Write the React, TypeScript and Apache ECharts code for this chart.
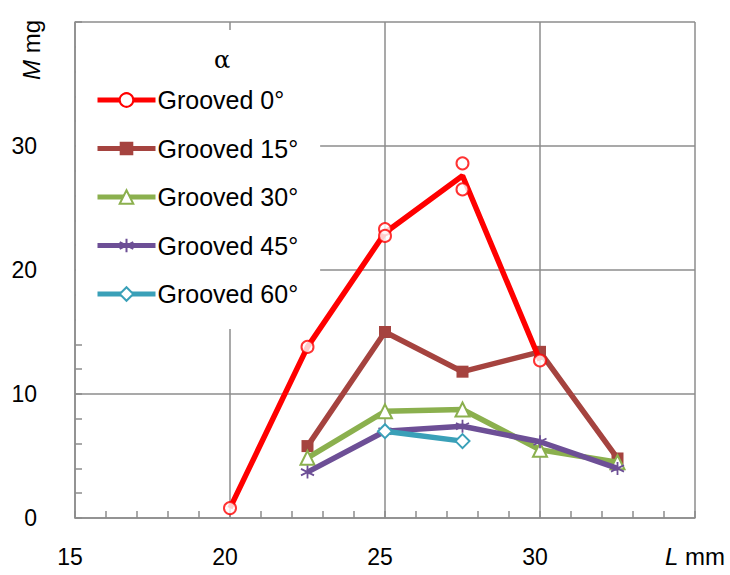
import React, { useEffect, useRef } from "react";
import * as echarts from "echarts";

const seriesNames = ["Grooved 0°", "Grooved 15°", "Grooved 30°", "Grooved 45°", "Grooved 60°"];
const xTicks = [15, 20, 25, 30, 35];
const yTicks = [0, 10, 20, 30, 40];

// Grooved 0°: mean line
const g0Line: [number, number][] = [[20, 0.8], [22.5, 13.8], [25, 23.0], [27.5, 27.6], [30, 12.7]];
// Grooved 0°: individual measured markers
const g0Points: [number, number][] = [[20, 0.8], [22.5, 13.8], [25, 23.3], [25, 22.75], [27.5, 28.6], [27.5, 26.5], [30, 12.7]];
const g15: [number, number][] = [[22.5, 5.8], [25, 15.0], [27.5, 11.8], [30, 13.4], [32.5, 4.8]];
const g30: [number, number][] = [[22.5, 4.85], [25, 8.6], [27.5, 8.75], [30, 5.5], [32.5, 4.5]];
const g45: [number, number][] = [[22.5, 3.7], [25, 7.0], [27.5, 7.4], [30, 6.15], [32.5, 4.0]];
const g60: [number, number][] = [[25, 7.0], [27.5, 6.2]];

const RED = "#FF0000";
const BROWN = "#A5433F";
const GREEN = "#8BB04E";
const PURPLE = "#6D4F96";
const TEAL = "#3AA0B8";
const GRID = "#8C8C8C";
const FONT = "Liberation Sans, Arial, sans-serif";
const STAR = "path://M6,0L6,12M0.8,3L11.2,9M0.8,9L11.2,3";

export default function App() {
  const ref = useRef<HTMLDivElement>(null);
  useEffect(() => {
    if (!ref.current) return;
    const chart = echarts.init(ref.current, null, { renderer: "svg" });
    const lineW = 5.5;
    const option: any = {
      animation: false,
      backgroundColor: "#fff",
      textStyle: { fontFamily: FONT },
      grid: { left: 75, right: 35, top: 22, bottom: 57 },
      xAxis: {
        type: "value",
        min: xTicks[0],
        max: xTicks[xTicks.length - 1],
        interval: 5,
        axisLine: { show: true, lineStyle: { color: GRID, width: 1.5 } },
        axisTick: { show: true, inside: true, length: 7, lineStyle: { color: GRID, width: 1.5 } },
        minorTick: { show: true, splitNumber: 5, length: 7, lineStyle: { color: GRID, width: 1.5 } },
        splitLine: { show: true, lineStyle: { color: GRID, width: 1.5 } },
        axisLabel: {
          color: "#000",
          fontSize: 23,
          fontFamily: FONT,
          margin: 27,
          padding: [0, 10, 0, 0],
          formatter: (v: number) => (v === 35 ? "" : String(v)),
        },
      },
      yAxis: {
        type: "value",
        min: yTicks[0],
        max: yTicks[yTicks.length - 1],
        interval: 10,
        axisLine: { show: true, lineStyle: { color: GRID, width: 1.5 } },
        axisTick: { show: true, inside: true, length: 7, lineStyle: { color: GRID, width: 1.5 } },
        minorTick: { show: true, splitNumber: 5, length: 7, lineStyle: { color: GRID, width: 1.5 } },
        splitLine: { show: true, lineStyle: { color: GRID, width: 1.5 } },
        axisLabel: {
          color: "#000",
          fontSize: 23,
          fontFamily: FONT,
          margin: 38,
          formatter: (v: number) => (v === 40 ? "" : String(v)),
        },
      },
      legend: {
        data: seriesNames,
        orient: "vertical",
        left: 76,
        top: 30,
        padding: [57, 22, 22, 19],
        backgroundColor: "#fff",
        itemWidth: 58,
        itemHeight: 17,
        itemGap: 22.5,
        selectedMode: false,
        lineStyle: { width: 5 },
        textStyle: { color: "#000", fontSize: 25, fontFamily: FONT, lineHeight: 26, padding: [0, 0, 0, -3] },
        z: 5,
      },
      graphic: [
        {
          type: "text",
          left: 214,
          top: 48,
          z: 10,
          style: { text: "α", fontSize: 24, fontFamily: "DejaVu Serif, serif", fill: "#000" },
        },
        {
          type: "text",
          x: 19,
          y: 80,
          rotation: Math.PI / 2,
          z: 10,
          style: {
            text: "{i|M} mg",
            fontSize: 24,
            fontFamily: FONT,
            fill: "#000",
            rich: { i: { fontStyle: "italic", fontSize: 24, fontFamily: FONT } },
          },
        },
        {
          type: "text",
          x: 665,
          y: 544,
          z: 10,
          style: {
            text: "{i|L} mm",
            fontSize: 24,
            fontFamily: FONT,
            fill: "#000",
            rich: { i: { fontStyle: "italic", fontSize: 24, fontFamily: FONT } },
          },
        },
      ],
      series: [
        {
          name: seriesNames[1],
          type: "line",
          data: g15,
          symbol: "rect",
          symbolSize: 12,
          lineStyle: { color: BROWN, width: lineW },
          itemStyle: { color: BROWN, borderColor: BROWN, borderWidth: 0 },
          z: 3,
        },
        {
          name: seriesNames[2],
          type: "line",
          data: g30,
          symbol: "triangle",
          symbolSize: 14,
          lineStyle: { color: GREEN, width: lineW },
          itemStyle: { color: "#fff", borderColor: GREEN, borderWidth: 2 },
          z: 4,
        },
        {
          name: seriesNames[3],
          type: "line",
          data: g45,
          symbol: STAR,
          symbolSize: 13,
          lineStyle: { color: PURPLE, width: lineW },
          itemStyle: { color: PURPLE, borderColor: PURPLE, borderWidth: 1.8 },
          z: 5,
        },
        {
          name: seriesNames[4],
          type: "line",
          data: g60,
          symbol: "diamond",
          symbolSize: 14,
          lineStyle: { color: TEAL, width: lineW },
          itemStyle: { color: "#fff", borderColor: TEAL, borderWidth: 2 },
          z: 6,
        },
        {
          name: seriesNames[0],
          type: "line",
          data: g0Line,
          showSymbol: false,
          symbol: "circle",
          symbolSize: 12,
          lineStyle: { color: RED, width: lineW },
          itemStyle: { color: "#fff", borderColor: RED, borderWidth: 2 },
          z: 7,
        },
        {
          name: "Grooved 0° points",
          type: "scatter",
          data: g0Points,
          symbol: "circle",
          symbolSize: 12,
          itemStyle: { color: "#fff", borderColor: RED, borderWidth: 2 },
          z: 8,
        },
      ],
    };
    chart.setOption(option);
    return () => chart.dispose();
  }, []);
  return (
    <div
      ref={ref}
      style={{ position: "fixed", left: 0, top: 0, width: 730, height: 575, background: "#fff" }}
    />
  );
}
